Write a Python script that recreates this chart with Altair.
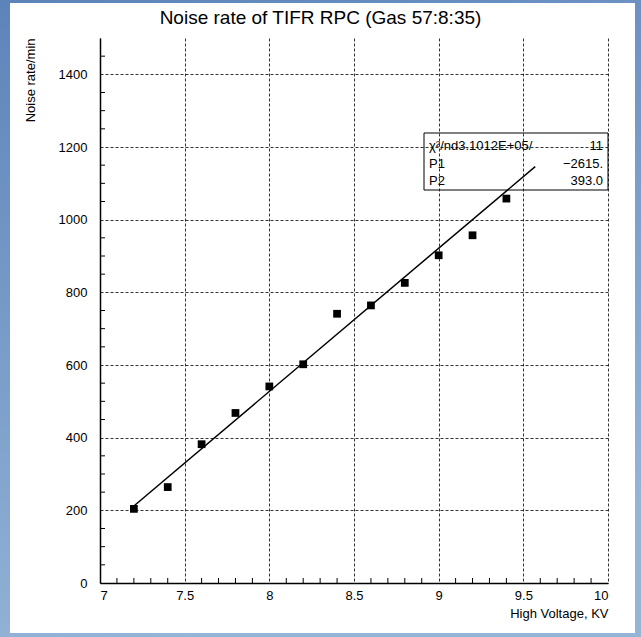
import altair as alt
import pandas as pd

# ---- data ----
hv = [7.2, 7.4, 7.6, 7.8, 8.0, 8.2, 8.4, 8.6, 8.8, 9.0, 9.2, 9.4]
rate = [204, 264, 382, 468, 541, 602, 741, 764, 826, 902, 957, 1058]

fit_hv = [7.2, 9.57]
fit_rate = [212, 1146]

x_major = [7, 7.5, 8, 8.5, 9, 9.5, 10]
y_major = [0, 200, 400, 600, 800, 1000, 1200, 1400]
x_minor = [7.1, 7.2, 7.3, 7.4, 7.6, 7.7, 7.8, 7.9, 8.1, 8.2, 8.3, 8.4,
           8.6, 8.7, 8.8, 8.9, 9.1, 9.2, 9.3, 9.4, 9.6, 9.7, 9.8, 9.9]
y_minor = [50, 100, 150, 250, 300, 350, 450, 500, 550, 650, 700, 750,
           850, 900, 950, 1050, 1100, 1150, 1250, 1300, 1350, 1450]

title_text = "Noise rate of TIFR RPC (Gas 57:8:35)"
x_title = "High Voltage, KV"
y_title = "Noise rate/min"
stat_left = ["χ²/nd3.1012E+05/", "P1", "P2"]
stat_right = ["11", "−2615.", "393.0"]

W, H = 508, 545
FONT = "Liberation Sans"
ROW_Y = [108, 126, 143]

pts = pd.DataFrame({"hv": hv, "rate": rate})
fit = pd.DataFrame({"hv": fit_hv, "rate": fit_rate})
xm = pd.DataFrame({"v": x_minor})
ym = pd.DataFrame({"v": y_minor})
one = pd.DataFrame({"a": [0]})

xscale = alt.Scale(domain=[7, 10], nice=False, zero=False)
yscale = alt.Scale(domain=[0, 1500], nice=False)

xaxis = alt.Axis(values=x_major, format=".1~f", tickSize=0, labelPadding=6,
                 grid=True, gridDash=[3, 2], gridColor="#000", gridOpacity=1, gridWidth=0.8,
                 domainColor="#000", domainWidth=1.5, labelFont=FONT, labelFontSize=13,
                 labelColor="#000", title=x_title, titleFont=FONT, titleFontSize=13,
                 titleFontWeight="normal", titleColor="#000", titleAlign="right",
                 titleAnchor="end", titleX=W, titleY=34, titleBaseline="alphabetic",
                 zindex=1)
yaxis = alt.Axis(values=y_major, format="d", tickSize=0, labelPadding=13,
                 grid=True, gridDash=[3, 2], gridColor="#000", gridOpacity=1, gridWidth=0.8,
                 domainColor="#000", domainWidth=1.5, labelFont=FONT, labelFontSize=13,
                 labelColor="#000", title=y_title, titleFont=FONT, titleFontSize=13,
                 titleFontWeight="normal", titleColor="#000", titleAngle=270,
                 titleAlign="right", titleX=-70, titleY=0, titleBaseline="middle",
                 zindex=1)

bg = alt.Chart(one).mark_rect(
    fill={"gradient": "linear", "x1": 0, "y1": 0, "x2": 0.3, "y2": 1,
          "stops": [{"offset": 0, "color": "#5d84ba"}, {"offset": 1, "color": "#95b5d7"}]}
).encode(x=alt.value(-100), x2=alt.value(W + 33), y=alt.value(-38), y2=alt.value(H + 54))

panel = alt.Chart(one).mark_rect(fill="white").encode(
    x=alt.value(-90), x2=alt.value(W + 27), y=alt.value(-35), y2=alt.value(H + 50))

base_pts = alt.Chart(pts).mark_square(size=60, color="black", opacity=1).encode(
    x=alt.X("hv:Q", scale=xscale, axis=xaxis),
    y=alt.Y("rate:Q", scale=yscale, axis=yaxis),
)

line = alt.Chart(fit).mark_line(color="black", strokeWidth=1.5).encode(
    x=alt.X("hv:Q", scale=xscale), y=alt.Y("rate:Q", scale=yscale))

xmin = alt.Chart(xm).mark_rule(color="black", strokeWidth=1).encode(
    x=alt.X("v:Q", scale=xscale), y=alt.value(H), y2=alt.value(H - 5))
ymin = alt.Chart(ym).mark_rule(color="black", strokeWidth=1).encode(
    y=alt.Y("v:Q", scale=yscale), x=alt.value(0), x2=alt.value(5))

box = alt.Chart(one).mark_rect(fill=None, stroke="black", strokeWidth=1).encode(
    x=alt.value(324), x2=alt.value(W), y=alt.value(95), y2=alt.value(152))

stat_layers = []
for i in range(len(stat_left)):
    d = pd.DataFrame({"l": [stat_left[i]], "r": [stat_right[i]]})
    stat_layers.append(alt.Chart(d).mark_text(
        align="left", baseline="middle", font=FONT, fontSize=13, color="black"
    ).encode(text="l:N", x=alt.value(329), y=alt.value(ROW_Y[i])))
    stat_layers.append(alt.Chart(d).mark_text(
        align="right", baseline="middle", font=FONT, fontSize=13, color="black"
    ).encode(text="r:N", x=alt.value(503), y=alt.value(ROW_Y[i])))

ttl = alt.Chart(pd.DataFrame({"t": [title_text]})).mark_text(
    align="center", baseline="middle", font=FONT, fontSize=19, color="black"
).encode(text="t:N", x=alt.value(220.5), y=alt.value(-20))

chart = alt.layer(bg, panel, base_pts, line, xmin, ymin, box, *stat_layers, ttl).properties(
    width=W, height=H,
    autosize=alt.AutoSizeParams(type="none"),
    padding={"left": 100, "top": 38, "right": 33, "bottom": 54},
).configure_view(stroke="#333", strokeWidth=1).configure(background="#7a9cc8")

chart.save("out.html", embed_options={"renderer": "svg", "actions": False})
